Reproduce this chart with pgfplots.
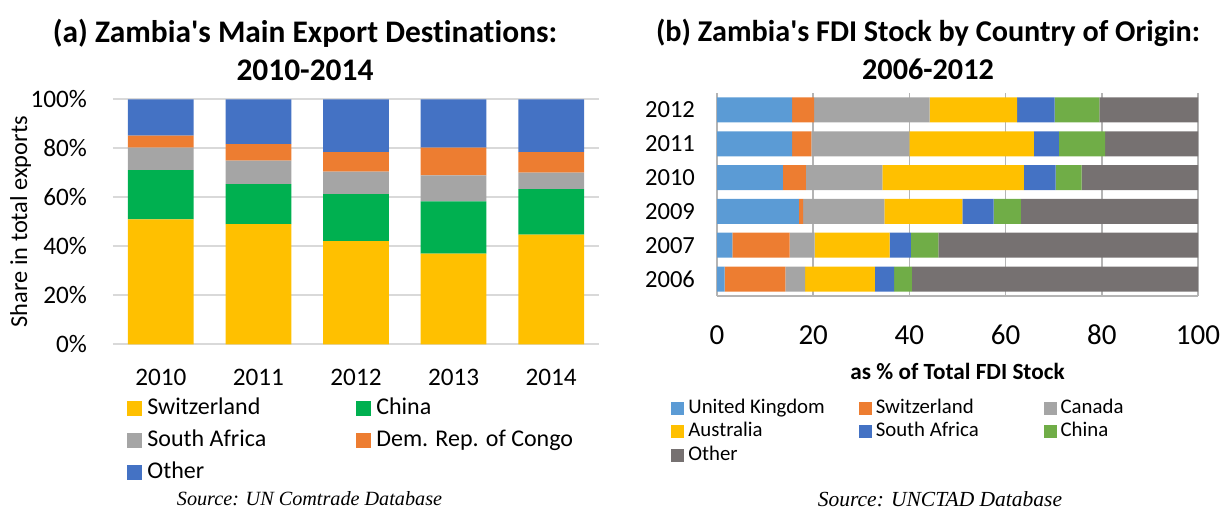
\documentclass[border=0pt]{standalone}
\usepackage{fontspec}
\setmainfont{Carlito}[Ligatures={NoCommon}]
\newfontfamily\srcfont{Liberation Serif}
\usepackage{pgfplots}
\usepackage{pgfplotstable}
\pgfplotsset{compat=1.18}

\definecolor{cYellow}{HTML}{FFC000}
\definecolor{cGreen}{HTML}{00B050}
\definecolor{cGray}{HTML}{A5A5A5}
\definecolor{cOrange}{HTML}{ED7D31}
\definecolor{cBlue}{HTML}{4472C4}
\definecolor{cLBlue}{HTML}{5B9BD5}
\definecolor{cLGreen}{HTML}{70AD47}
\definecolor{cDGray}{HTML}{767171}
\definecolor{gridL}{HTML}{D9D9D9}
\definecolor{gridR}{HTML}{B4B4B4}

% (a) export shares, %
\pgfplotstableread{
i  sw    cn    za    cd    oth
0  51.0  20.1  9.2   4.9   14.8
1  49.0  16.4  9.6   6.7   18.3
2  42.1  19.2  9.2   7.9   21.6
3  37.0  21.3  10.6  11.4  19.7
4  44.8  18.5  6.8   8.3   21.6
}\exports

% (b) FDI stock shares, rows 2006 2007 2009 2010 2011 2012
\pgfplotstableread{
i  uk    sw    ca    au    za   cn   oth
0  1.6   12.6  4.1   14.5  4.0  3.7  59.5
1  3.2   11.9  5.2   15.6  4.4  5.7  54.0
2  17.0  0.9   16.9  16.2  6.5  5.7  36.8
3  13.7  4.8   15.9  29.4  6.6  5.4  24.2
4  15.6  4.0   20.4  25.9  5.2  9.6  19.3
5  15.6  4.6   24.0  18.2  7.8  9.3  20.5
}\fdi

\pgfplotsset{
  sqA/.style={legend image code/.code={\fill[##1] (0pt,-3.75pt) rectangle (7.5pt,3.75pt);}},
  sqB/.style={legend image code/.code={\fill[##1] (0pt,-3.25pt) rectangle (6.5pt,3.25pt);}},
}

\begin{document}
\begin{tikzpicture}
\path[use as bounding box] (0,0) rectangle (611pt,254pt);

\node[font=\bfseries\fontsize{15.7}{19}\selectfont, align=center] at (152.5pt,229.25pt)
  {(a) Zambia\textquotesingle s Main Export Destinations:\\2010-2014};
\node[font=\bfseries\fontsize{15.1}{19}\selectfont, align=center] at (464pt,229.25pt)
  {(b) Zambia\textquotesingle s FDI Stock by Country of Origin:\\2006-2012};

\begin{axis}[
  at={(56.5pt,81.85pt)}, anchor=south west,
  scale only axis, width=243pt, height=122.5pt,
  ybar stacked, bar width=32.85pt,
  xmin=-0.49, xmax=4.49, ymin=0, ymax=100,
  xtick={0,...,4}, xticklabels={2010,2011,2012,2013,2014},
  ytick={0,20,...,100}, yticklabels={0\%,20\%,40\%,60\%,80\%,100\%},
  major tick length=0pt,
  axis line style={draw=none},
  ymajorgrids, grid style={color=gridL, line width=0.8pt},
  tick label style={font=\fontsize{12.6}{14}\selectfont},
  xticklabel style={anchor=center, yshift=-16.35pt},
  yticklabel style={xshift=-9.5pt},
  ylabel={Share in total exports},
  ylabel style={font=\fontsize{12.2}{14}\selectfont, at={(axis description cs:-0.19,0.5)}, anchor=center},
  legend columns=2,
  legend cell align=left,
  legend style={at={(axis description cs:0.0288,-0.1946)}, anchor=north west,
    draw=none, fill=none, inner sep=0pt,
    font=\fontsize{12}{14}\selectfont,
    nodes={text height=9pt, text depth=3pt, inner ysep=2pt, inner xsep=2.5pt},
    /tikz/column 2/.style={column sep=42.5pt}},
]
\addplot[fill=cYellow, draw=none, sqA] table[x=i, y=sw] {\exports};
\addlegendentry{Switzerland}
\addplot[fill=cGreen, draw=none, sqA] table[x=i, y=cn] {\exports};
\addlegendentry{China}
\addplot[fill=cGray, draw=none, sqA] table[x=i, y=za] {\exports};
\addlegendentry{South Africa}
\addplot[fill=cOrange, draw=none, sqA] table[x=i, y=cd] {\exports};
\addlegendentry{Dem. Rep. of Congo}
\addplot[fill=cBlue, draw=none, sqA] table[x=i, y=oth] {\exports};
\addlegendentry{Other}
\end{axis}

\begin{axis}[
  at={(358.5pt,106pt)}, anchor=south west,
  scale only axis, width=240.5pt, height=101.5pt,
  xbar stacked, bar width=12.5pt,
  xmin=0, xmax=100, ymin=-0.5, ymax=5.5,
  ytick={0,...,5}, yticklabels={2006,2007,2009,2010,2011,2012},
  xtick={0,20,...,100}, xticklabels={0,20,40,60,80,100},
  major tick length=0pt,
  axis x line*=bottom, axis y line*=left,
  axis line style={-, color=gridR, line width=0.8pt},
  xmajorgrids, grid style={color=gridR, line width=0.8pt},
  xticklabel style={font=\fontsize{14.5}{16}\selectfont, anchor=center, yshift=-19.5pt},
  yticklabel style={font=\fontsize{12.3}{14}\selectfont, xshift=-7.5pt},
  xlabel={\textbf{as \% of Total FDI Stock}},
  xlabel style={font=\fontsize{11.6}{13}\selectfont, at={(axis description cs:0.5,-0.374)}, anchor=center},
  legend columns=3,
  legend cell align=left,
  legend style={at={(axis description cs:-0.0956,-0.4926)}, anchor=north west,
    draw=none, fill=none, inner sep=0pt,
    font=\fontsize{10.4}{12}\selectfont,
    nodes={text height=7.5pt, text depth=2.25pt, inner ysep=1pt, inner xsep=2pt},
    /tikz/column 2/.style={column sep=15pt},
    /tikz/column 4/.style={column sep=30.4pt}},
]
\addplot[fill=cLBlue, draw=none, sqB] table[x=uk, y=i] {\fdi};
\addlegendentry{United Kingdom}
\addplot[fill=cOrange, draw=none, sqB] table[x=sw, y=i] {\fdi};
\addlegendentry{Switzerland}
\addplot[fill=cGray, draw=none, sqB] table[x=ca, y=i] {\fdi};
\addlegendentry{Canada}
\addplot[fill=cYellow, draw=none, sqB] table[x=au, y=i] {\fdi};
\addlegendentry{Australia}
\addplot[fill=cBlue, draw=none, sqB] table[x=za, y=i] {\fdi};
\addlegendentry{South Africa}
\addplot[fill=cLGreen, draw=none, sqB] table[x=cn, y=i] {\fdi};
\addlegendentry{China}
\addplot[fill=cDGray, draw=none, sqB] table[x=oth, y=i] {\fdi};
\addlegendentry{Other}
\end{axis}

\node[font=\srcfont\itshape\fontsize{10.1}{12}\selectfont] at (154.75pt,4.5pt) {Source: UN Comtrade Database};
\node[font=\srcfont\itshape\fontsize{10.75}{12}\selectfont] at (470pt,4.5pt) {Source: UNCTAD Database};
\end{tikzpicture}
\end{document}
